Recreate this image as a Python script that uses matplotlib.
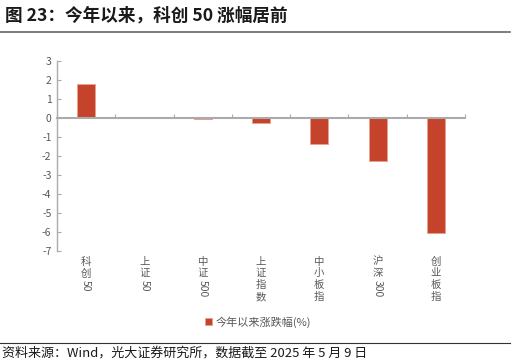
import matplotlib
matplotlib.use("Agg")
import matplotlib.pyplot as plt
import matplotlib.transforms as mtransforms
from matplotlib.lines import Line2D
import re

plt.rcParams['font.family'] = ['Noto Sans CJK SC', 'DejaVu Sans']

categories = ["科创50", "上证50", "中证500", "上证指数", "中小板指", "沪深300", "创业板指"]
values = [1.78, 0.0, -0.07, -0.28, -1.37, -2.26, -6.07]
series_name = "今年以来涨跌幅(%)"
yticks = list(range(-7, 4))

title = "图 23：今年以来，科创 50 涨幅居前"
source = "资料来源：Wind，光大证券研究所，数据截至 2025 年 5 月 9 日"

W, H = 516, 364
fig = plt.figure(figsize=(W / 100, H / 100), dpi=100)
ax = fig.add_axes([57 / W, 1 - 251 / H, (465 - 57) / W, (251 - 61) / H])

bar_color = "#C5432A"
edge_color = "#E9A08E"
x = list(range(len(categories)))
ax.bar(x, values, width=0.31, color=bar_color, edgecolor=edge_color, linewidth=0.6,
       label=series_name, zorder=2)

ax.set_xlim(-0.5, len(categories) - 0.5)
ax.set_ylim(-7, 3)
ax.set_yticks(yticks)
ax.set_yticklabels([str(t) for t in yticks])

axis_gray = "#ABABAB"
text_gray = "#595959"
for s in ["top", "right"]:
    ax.spines[s].set_visible(False)
ax.spines["left"].set_color(axis_gray)
ax.spines["left"].set_linewidth(1.0)
ax.spines["bottom"].set_position(("data", 0))
ax.spines["bottom"].set_color(axis_gray)
ax.spines["bottom"].set_linewidth(1.5)
ax.spines["bottom"].set_zorder(3)
ax.set_xticks([i + 0.5 for i in range(-1, len(categories))])
ax.set_xticklabels([])
ax.tick_params(axis="x", direction="in", length=3, color=axis_gray, width=0.8)
ax.tick_params(axis="y", direction="in", length=3, color=axis_gray, width=0.8,
               labelsize=7.5, labelcolor=text_gray, pad=4)

# vertical stacked category labels below the axes
fs = 7.5
pitch = 8.5  # points per CJK char
trans = mtransforms.blended_transform_factory(ax.transData, ax.transAxes)
for i, lab in enumerate(categories):
    off = -4.0
    for part in re.findall(r"\d+|\D", lab):
        if part.isdigit():
            ax.annotate(part, xy=(i, 0), xycoords=trans, xytext=(0, off),
                        textcoords="offset points", rotation=-90, ha="center", va="top",
                        fontsize=fs, color=text_gray, annotation_clip=False)
            off -= len(part) * fs * 0.58
        else:
            ax.annotate(part, xy=(i, 0), xycoords=trans, xytext=(0, off),
                        textcoords="offset points", ha="center", va="top",
                        fontsize=fs, color=text_gray, annotation_clip=False)
            off -= pitch

# legend
fig.legend(loc="center", bbox_to_anchor=(258 / W, 1 - 322 / H), frameon=False,
           fontsize=8, labelcolor=text_gray, handlelength=0.6, handleheight=0.6,
           handletextpad=0.3)

# title and rules
fig.text(5 / W, 1 - 15 / H, title, fontsize=12.7, fontweight="bold", color="#1A1A1A",
         ha="left", va="center")
fig.add_artist(Line2D([0, 510 / W], [1 - 32 / H, 1 - 32 / H], transform=fig.transFigure,
                      color="#666666", linewidth=1.2))
fig.add_artist(Line2D([0, 510 / W], [1 - 343 / H, 1 - 343 / H], transform=fig.transFigure,
                      color="#333333", linewidth=0.8))
fig.text(2 / W, 1 - 353 / H, source, fontsize=9.4, color="#1A1A1A", ha="left", va="center")

fig.savefig("out.png", dpi=100)
